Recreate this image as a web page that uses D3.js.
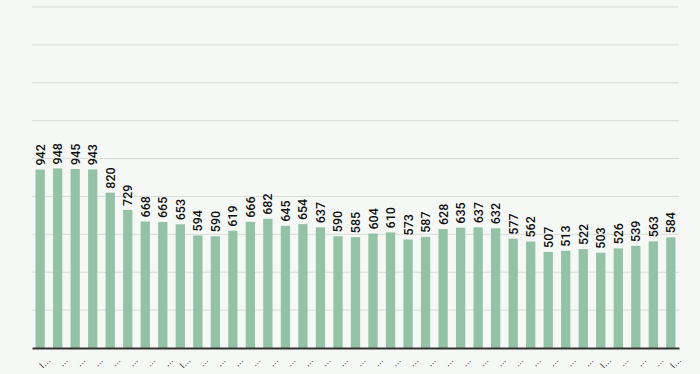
<!DOCTYPE html>
<html>
<head>
<meta charset="utf-8">
<script src="https://cdn.jsdelivr.net/npm/d3@7"></script>
<style>
  html, body { margin: 0; padding: 0; background: #f5f8f5; }
  svg { display: block; font-family: Roboto, "Noto Sans", sans-serif; }
</style>
</head>
<body>
<svg id="chart" width="700" height="374"></svg>
<script>
// values
var values = [942, 948, 945, 943, 820, 729, 668, 665, 653, 594, 590, 619, 666, 682,
  645, 654, 637, 590, 585, 604, 610, 573, 587, 628, 635, 637, 632, 577, 562,
  507, 513, 522, 503, 526, 539, 563, 584];
// category labels are truncated in the picture
var labels = values.map(function(d, i) {
  return (i == 0 || i == 8 || i == 32 || i == 36) ? "l\u2026" : "\u2026";
});
var gridTicks = [0, 200, 400, 600, 800, 1000, 1200, 1400, 1600, 1800];

var svg = d3.select("#chart");
var plotLeft = 32, plotRight = 679, plotTop = 7, plotBottom = 348;

var x = d3.scaleBand()
  .domain(d3.range(values.length))
  .range([plotLeft, plotRight])
  .paddingInner(0.47)
  .paddingOuter(0.2);

var y = d3.scaleLinear()
  .domain([0, 1800])
  .range([plotBottom, plotTop]);

// grid lines
svg.append("g")
  .selectAll("line")
  .data(gridTicks.slice(1))
  .enter()
  .append("line")
  .attr("x1", plotLeft)
  .attr("x2", plotRight)
  .attr("y1", function(d) { return y(d); })
  .attr("y2", function(d) { return y(d); })
  .attr("stroke", "#dadcda")
  .attr("stroke-width", 1);

// bars
svg.append("g")
  .selectAll("rect")
  .data(values)
  .enter()
  .append("rect")
  .attr("x", function(d, i) { return x(i); })
  .attr("y", function(d) { return y(d); })
  .attr("width", x.bandwidth())
  .attr("height", function(d) { return y(0) - y(d); })
  .attr("fill", "#94c2a6");

// value labels, rotated
svg.append("g")
  .selectAll("text")
  .data(values)
  .enter()
  .append("text")
  .attr("transform", function(d, i) {
    return "translate(" + (x(i) + x.bandwidth() / 2 + 4.5) + "," + (y(d) - 4) + ") rotate(-90)";
  })
  .attr("font-size", "12.5px")
  .attr("font-weight", 500)
  .attr("fill", "#111")
  .text(function(d) { return d; });

// x axis
var xAxis = d3.axisBottom(x)
  .tickSize(0)
  .tickPadding(6)
  .tickFormat(function(i) { return labels[i]; });

var gx = svg.append("g")
  .attr("transform", "translate(0," + plotBottom + ")")
  .call(xAxis);
gx.select(".domain")
  .attr("stroke", "#333")
  .attr("stroke-width", 2);
gx.selectAll("text")
  .attr("font-size", "9px")
  .attr("fill", "#222")
  .attr("text-anchor", "end")
  .attr("transform", "translate(1,3) rotate(-45)")
  .attr("dy", "0.9em");
</script>
</body>
</html>
